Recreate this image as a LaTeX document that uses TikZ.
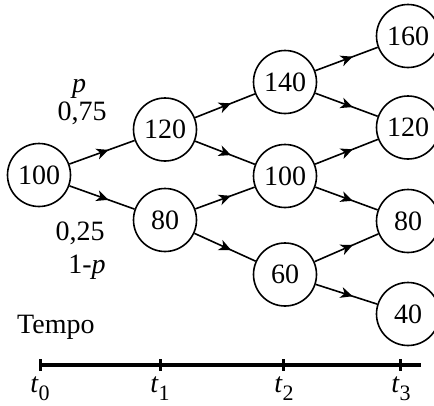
\documentclass[tikz,border=0pt]{standalone}
\usepackage{fontspec}
\setmainfont{Liberation Serif}
\usetikzlibrary{arrows.meta,decorations.markings}
\newcommand{\tsub}[1]{\textit{t}\raisebox{-0.28em}{\fontsize{22}{26}\selectfont #1}}
\tikzset{
  state/.style={draw, circle, line width=1.6pt, minimum size=63pt, inner sep=0pt, font=\fontsize{28}{32}\selectfont},
  lab/.style={font=\fontsize{28}{32}\selectfont, inner sep=0pt},
  edge/.style={line width=1.6pt, postaction={decorate},
    decoration={markings, mark=at position 0.6 with {\arrow{Stealth[length=12pt,width=11pt,inset=3.5pt]}}}},
  axis/.style={line width=3.5pt},
  tick/.style={line width=3pt}
}
\begin{document}
\begin{tikzpicture}[x=1pt,y=-1pt]
\useasboundingbox (0,0) rectangle (434,405);
\node[state] (a) at (39,175) {100};
\node[state] (b1) at (165,129.5) {120};
\node[state] (b2) at (165,220) {80};
\node[state] (c1) at (285,82) {140};
\node[state] (c2) at (285,176) {100};
\node[state] (c3) at (285,274.5) {60};
\node[state] (d1) at (408,36) {160};
\node[state] (d2) at (408,127.5) {120};
\node[state] (d3) at (408,221) {80};
\node[state] (d4) at (408,314) {40};
\draw[edge] (a) -- (b1);
\draw[edge] (a) -- (b2);
\draw[edge] (b1) -- (c1);
\draw[edge] (b1) -- (c2);
\draw[edge] (b2) -- (c2);
\draw[edge] (b2) -- (c3);
\draw[edge] (c1) -- (d1);
\draw[edge] (c1) -- (d2);
\draw[edge] (c2) -- (d2);
\draw[edge] (c2) -- (d3);
\draw[edge] (c3) -- (d3);
\draw[edge] (c3) -- (d4);
\node[lab, anchor=base] (lp) at (79,92) {\textit{p}};
\node[lab, anchor=base] (l75) at (82,120) {0,75};
\node[lab, anchor=base] (l25) at (80,240) {0,25};
\node[lab, anchor=base] (lq) at (87,273) {1-\textit{p}};
\node[lab, anchor=base west] (tempo) at (17,333) {Tempo};
\coordinate (x0) at (40,365);
\coordinate (x1) at (160,365);
\coordinate (x2) at (283,365);
\coordinate (x3) at (400,365);
\coordinate (xe) at (421,365);
\draw[axis] (x0) -- (xe);
\foreach \c in {x0,x1,x2,x3} \draw[tick] ([yshift=6pt]\c) -- ([yshift=-6pt]\c);
\node[lab] (t0) at (40,389) {\tsub{0}};
\node[lab] (t1) at (160,389) {\tsub{1}};
\node[lab] (t2) at (284,389) {\tsub{2}};
\node[lab] (t3) at (401,389) {\tsub{3}};
\end{tikzpicture}
\end{document}
